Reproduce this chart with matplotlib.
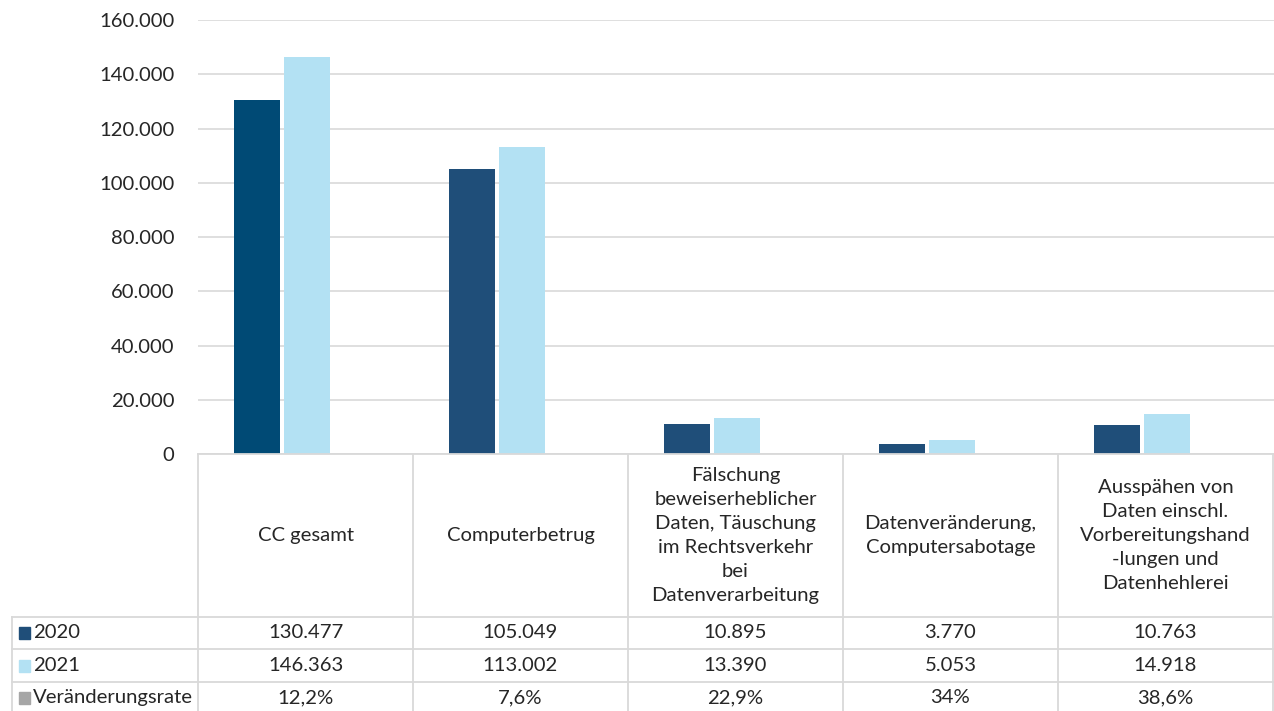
import numpy as np
import matplotlib.pyplot as plt
from matplotlib.patches import Rectangle

plt.rcParams['font.family'] = ['Lato', 'DejaVu Sans']

categories = ["CC gesamt", "Computerbetrug",
              "Fälschung\nbeweiserheblicher\nDaten, Täuschung\nim Rechtsverkehr\nbei\nDatenverarbeitung",
              "Datenveränderung,\nComputersabotage",
              "Ausspähen von\nDaten einschl.\nVorbereitungshand\n-lungen und\nDatenhehlerei"]
values_2020 = [130477, 105049, 10895, 3770, 10763]
values_2021 = [146363, 113002, 13390, 5053, 14918]
change_rate = ["12,2%", "7,6%", "22,9%", "34%", "38,6%"]
series_names = ["2020", "2021", "Veränderungsrate"]
yticks = [0, 20000, 40000, 60000, 80000, 100000, 120000, 140000, 160000]

c2020 = "#1f4e79"
c2020_first = "#004a75"
c2021 = "#b3e1f3"
c_rate = "#a6a6a6"
grid_c = "#d9d9d9"
text_c = "#262626"

W, H = 1274, 711
fig = plt.figure(figsize=(W / 100, H / 100), dpi=100)

# plot area in pixel coordinates
left, right, top, base = 198, 1274, 20, 454
ax = fig.add_axes([left / W, 1 - base / H, (right - left) / W, (base - top) / H])

col_w = 215.0
x0 = -(281.5 - left) / col_w
ax.set_xlim(x0, x0 + (right - left) / col_w)
ax.set_ylim(0, 160000)

x = np.arange(len(categories))
bw = 46 / col_w
off = 25 / col_w
colors_2020 = [c2020_first] + [c2020] * (len(categories) - 1)
ax.bar(x - off, values_2020, bw, color=colors_2020, zorder=3)
ax.bar(x + off, values_2021, bw, color=c2021, zorder=3)

fs = 14.6
ax.set_yticks(yticks)
ax.set_yticklabels([f"{v:,}".replace(",", ".") for v in yticks], fontsize=fs, color=text_c)
ax.tick_params(axis='y', length=0, pad=17)
ax.tick_params(axis='x', length=0, labelbottom=False)
ax.grid(axis='y', color=grid_c, linewidth=1.2, zorder=0)
for s in ax.spines.values():
    s.set_visible(False)

# data table below the plot, drawn in pixel coordinates
tr = fig.transFigure


def px(xp, yp):
    return xp / W, 1 - yp / H


def hline(x1, x2, yp):
    fig.add_artist(plt.Line2D([x1 / W, x2 / W], [1 - yp / H, 1 - yp / H],
                              color=grid_c, linewidth=1.3, transform=tr))


def vline(xp, y1, y2):
    fig.add_artist(plt.Line2D([xp / W, xp / W], [1 - y1 / H, 1 - y2 / H],
                              color=grid_c, linewidth=1.3, transform=tr))


label_left = 12
rows_y = [617, 649, 682, 713]
hline(left, right, base)
for yy in rows_y:
    hline(label_left, right, yy)
for i in range(len(categories) + 1):
    vline(left + i * col_w, base, H)
vline(label_left, rows_y[0], H)

for i, cat in enumerate(categories):
    cx = left + (i + 0.5) * col_w
    fig.text(*px(cx, (base + rows_y[0]) / 2), cat, ha='center', va='center',
             fontsize=fs, color=text_c, linespacing=1.5, transform=tr)
    for r, val in enumerate([values_2020[i], values_2021[i], change_rate[i]]):
        txt = f"{val:,}".replace(",", ".") if r < 2 else val
        fig.text(*px(cx, (rows_y[r] + rows_y[r + 1]) / 2), txt, ha='center', va='center',
                 fontsize=fs, color=text_c, transform=tr)

for r, (name, col) in enumerate(zip(series_names, [c2020, c2021, c_rate])):
    cy = (rows_y[r] + rows_y[r + 1]) / 2
    fig.add_artist(Rectangle(px(19, cy + 6), 11 / W, 12 / H, color=col, transform=tr))
    fig.text(*px(33, cy), name, ha='left', va='center', fontsize=fs, color=text_c, transform=tr)

fig.savefig("out.png", dpi=100, facecolor="white")
